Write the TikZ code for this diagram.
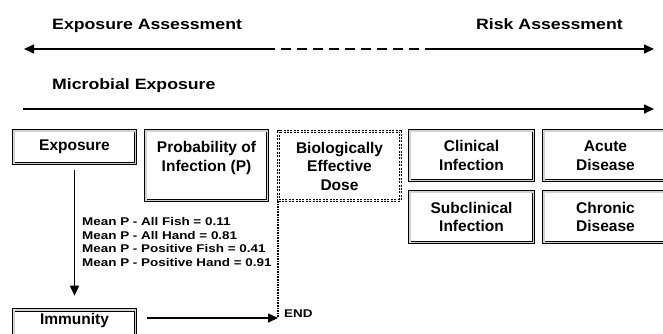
\documentclass[tikz,border=0pt]{standalone}
\usepackage{fontspec}
\setmainfont{Liberation Sans}
\newfontfamily\headfont[FakeStretch=1.18]{Liberation Sans}
\newfontfamily\notefont[FakeStretch=1.2]{Liberation Sans}
\usetikzlibrary{arrows.meta}
\tikzset{stage/.style={draw,line width=.9pt,double=gray!35,double distance=1.6pt,
    align=center,inner sep=0pt,font=\bfseries\fontsize{15.5}{18.5}\selectfont},
  dosebox/.style={draw,line width=1pt,double=gray!20,double distance=1pt,
    dash pattern=on 2pt off 1.4pt,align=center,inner sep=0pt,
    font=\bfseries\fontsize{15.5}{18.5}\selectfont},
  heading/.style={anchor=base west,inner sep=0pt,font=\headfont\bfseries\fontsize{15}{18}\selectfont},
  note/.style={align=left,inner sep=0pt,font=\notefont\bfseries\fontsize{11.2}{13.7}\selectfont},
  rule/.style={line width=1.6pt},
  flow/.style={-{Triangle[length=10pt,width=9pt]},line width=1.6pt},
  endline/.style={line width=2.6pt,dash pattern=on 1.6pt off 1pt}}
\begin{document}
\begin{tikzpicture}[x=1pt,y=-1pt]
\useasboundingbox (0,0) rectangle (663,333);
\clip (0,0) rectangle (663,333);
% headings and long arrows
\node[heading] (expass) at (52,29.4) {Exposure Assessment};
\node[heading] (riskass) at (476,29.4) {Risk Assessment};
\node[heading] (microexp) at (52,89.4) {Microbial Exposure};
\coordinate (topL) at (24,49);
\coordinate (dashA) at (265,49);
\coordinate (dashB) at (433,49);
\coordinate (topR) at (654,49);
\draw[flow] (dashA) -- (topL);
\draw[rule,dash pattern=on 10pt off 6pt] (dashA) -- (dashB);
\draw[flow] (dashB) -- (topR);
\coordinate (midL) at (23,109);
\coordinate (midR) at (654,109);
\draw[flow] (midL) -- (midR);
% stages
\node[stage,minimum width=121.6pt,minimum height=32.6pt] (expo) at (74.5,147) {Exposure};
\node[stage,minimum width=121.6pt,minimum height=69.6pt] (prob) at (206.5,165.5) {Probability of\\Infection (P)\\\mbox{}};
\node[dosebox,minimum width=122pt,minimum height=69pt] (bed) at (339.5,166) {Biologically\\Effective\\Dose};
\node[stage,minimum width=123.6pt,minimum height=49.6pt] (clin) at (471.5,155.5) {Clinical\\Infection};
\node[stage,minimum width=123.6pt,minimum height=49.6pt] (acute) at (605.5,155.5) {Acute\\Disease};
\node[stage,minimum width=123.6pt,minimum height=50.6pt] (subc) at (471.5,217) {Subclinical\\Infection};
\node[stage,minimum width=123.6pt,minimum height=50.6pt] (chron) at (605.5,217) {Chronic\\Disease};
\node[stage,minimum width=121.6pt,text height=14pt,text depth=12pt,anchor=north] (immu) at (74.5,309.7) {Immunity};
% mean values
\node[note,anchor=west] (meanp) at (82,242) {Mean P - All Fish = 0.11\\Mean P - All Hand = 0.81\\
  Mean P - Positive Fish = 0.41\\Mean P - Positive Hand = 0.91};
\draw[flow,shorten <=6.5pt,shorten >=14pt] (expo) -- (immu);
\coordinate (endc) at (278,318);
\draw[endline] (bed.south west) -- (endc);
\draw[flow,shorten <=11.5pt] (immu.east |- endc) -- (endc);
\node[note,anchor=base west] (endtxt) at (284,317) {END};
\end{tikzpicture}
\end{document}
